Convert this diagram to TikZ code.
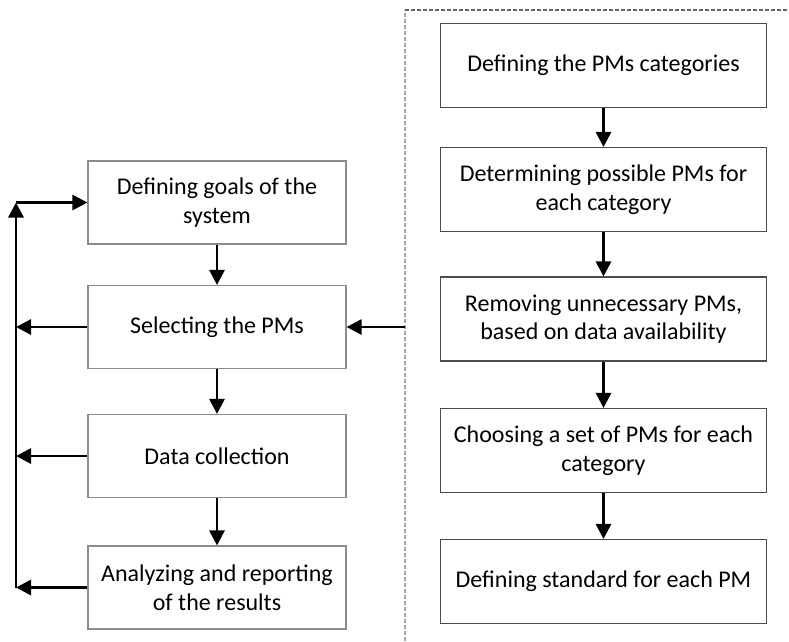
\documentclass[tikz,border=0pt]{standalone}
\usepackage{fontspec}
\setmainfont{Carlito}
\usetikzlibrary{arrows.meta}
\begin{document}
\begin{tikzpicture}[x=1pt,y=-1pt,
  lbox/.style={draw=black!45,line width=1.1pt,minimum width=258pt,minimum height=83pt,inner sep=0pt,align=center,font=\fontsize{24}{28.5}\selectfont},
  rbox/.style={draw=black!70,line width=1.1pt,minimum width=326pt,minimum height=84pt,inner sep=0pt,align=center,font=\fontsize{24}{28.5}\selectfont},
  arr/.style={line width=2.8pt,-{Triangle[length=15pt,width=15pt]}},
  sep/.style={draw=black!35,line width=1.1pt,dash pattern=on 4pt off 2pt}
]
\useasboundingbox (0,0) rectangle (789,641);
% left column
\node[lbox] (g) at (217,202.5) {Defining goals of the\\system};
\node[lbox] (s) at (217,327) {Selecting the PMs};
\node[lbox] (d) at (217,456) {Data collection};
\node[lbox] (a) at (217,587.5) {Analyzing and reporting\\of the results};
% right column
\node[rbox] (r1) at (603.5,65.5) {Defining the PMs categories};
\node[rbox] (r2) at (603.5,189.5) {Determining possible PMs for\\each category};
\node[rbox] (r3) at (603.5,319) {Removing unnecessary PMs,\\based on data availability};
\node[rbox] (r4) at (603.5,450.5) {Choosing a set of PMs for each\\category};
\node[rbox] (r5) at (603.5,581.5) {Defining standard for each PM};
% vertical arrows
\draw[arr] (g.south) -- (s.north);
\draw[arr] (s.south) -- (d.north);
\draw[arr] (d.south) -- (a.north);
\draw[arr] (r1.south) -- (r2.north);
\draw[arr] (r2.south) -- (r3.north);
\draw[arr] (r3.south) -- (r4.north);
\draw[arr] (r4.south) -- (r5.north);
% feedback loop
\coordinate (top) at (16,202.5);
\coordinate (bot) at (16,587.5);
\draw[arr] (bot) -- (top);
\draw[arr] (top) -- (g.west);
\draw[arr] (s.west) -- (s.west -| top);
\draw[arr] (d.west) -- (d.west -| top);
\draw[arr] (a.west) -- (bot);
% separator
\coordinate (c1) at (405,10);
\coordinate (c2) at (405,641);
\coordinate (c3) at (789,10);
\draw[sep] (c2) -- (c1);
\draw[sep,draw=black!60] (c1) -- (c3);
\coordinate (sx) at (405,327);
\draw[arr] (sx) -- (s.east);
\end{tikzpicture}
\end{document}
